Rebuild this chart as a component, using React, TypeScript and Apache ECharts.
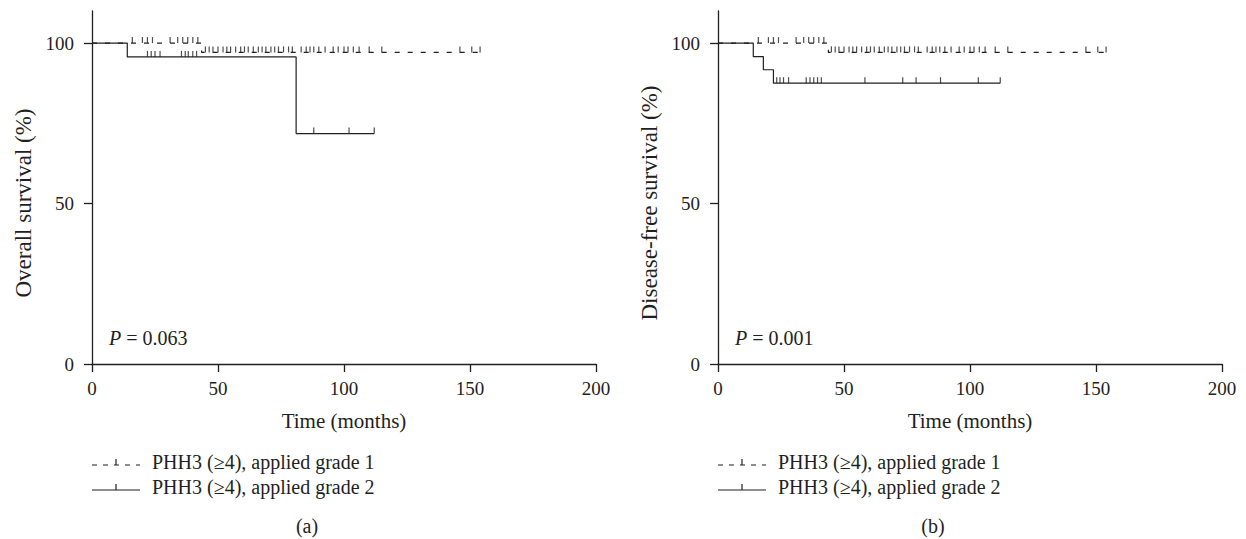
import React, { useEffect, useRef } from 'react';
import * as echarts from 'echarts';

const xTicks = [0, 50, 100, 150, 200];
const yTicks = [0, 50, 100];

// (a) Overall survival
const osG1Times = [0, 43.5, 154];
const osG1Surv = [100, 97.1, 97.1];
const osG1Censor = [16, 20, 22, 24, 31, 34, 36, 38, 40, 42,
  45, 46.5, 48, 50, 52, 53.5, 55, 57, 59, 60.5, 62, 64, 66, 67.5, 69, 71, 72.5, 74, 76, 78, 79.5,
  83, 85, 86.5, 88, 90, 92.5, 95.7, 97.7, 100, 101.6, 103.7, 106, 110, 115, 146, 150.7, 154];
const osG2Times = [0, 14, 81, 112];
const osG2Surv = [100, 95.7, 71.8, 71.8];
const osG2Censor = [22, 23.5, 25, 27, 35.5, 37, 38.2, 40, 41.5, 88, 102, 112];

// (b) Disease-free survival
const dfsG1Times = [0, 43.8, 154];
const dfsG1Surv = [100, 97.1, 97.1];
const dfsG1Censor = [16, 20, 22, 24, 31, 34, 36, 38, 40, 42,
  45, 46.5, 48, 50, 52, 53.5, 55, 57, 59, 60.5, 62, 64, 66, 67.5, 69, 71, 72.5, 74, 76, 78, 79.5,
  83, 85, 86.5, 88, 90, 92.5, 95.7, 97.7, 100, 101.6, 103.7, 106, 110, 115, 146, 150.7, 154];
const dfsG2Times = [0, 14, 18, 22, 112];
const dfsG2Surv = [100, 95.8, 91.7, 87.5, 87.5];
const dfsG2Censor = [23.3, 24.6, 26, 28, 35, 36.5, 38, 39.5, 41, 58.3, 73.3, 78.6, 88.3, 103.3, 112];

const panels = [
  { yName: 'Overall survival (%)', p: '0.063', tag: '(a)', g1: [osG1Times, osG1Surv, osG1Censor], g2: [osG2Times, osG2Surv, osG2Censor] },
  { yName: 'Disease-free survival (%)', p: '0.001', tag: '(b)', g1: [dfsG1Times, dfsG1Surv, dfsG1Censor], g2: [dfsG2Times, dfsG2Surv, dfsG2Censor] },
];
const legendLabels = ['PHH3 (≥4), applied grade 1', 'PHH3 (≥4), applied grade 2'];

const INK = '#231f20';
const FONT = 'Liberation Serif';

function stepAt(times: number[], surv: number[], t: number) {
  let v = surv[0];
  for (let i = 0; i < times.length; i++) if (times[i] <= t) v = surv[i];
  return v;
}

export default function App() {
  const ref = useRef<HTMLDivElement>(null);
  useEffect(() => {
    const chart = echarts.init(ref.current!, null, { renderer: 'svg' });
    const grids: any[] = [];
    const xAxes: any[] = [];
    const yAxes: any[] = [];
    const series: any[] = [];
    const graphics: any[] = [];
    panels.forEach((pn, k) => {
      const ox = k * 626;
      grids.push({ left: 92 + ox, top: 11, width: 504, height: 353 });
      xAxes.push({
        gridIndex: k, type: 'value', min: 0, max: 200, interval: 50,
        name: 'Time (months)', nameLocation: 'middle', nameGap: 46,
        nameTextStyle: { fontFamily: FONT, fontSize: 21, color: INK },
        axisLine: { lineStyle: { color: INK, width: 1.3 } },
        axisTick: { inside: false, length: 8, customValues: xTicks, lineStyle: { color: INK, width: 1.3 } },
        axisLabel: { margin: 15, customValues: xTicks, fontFamily: FONT, fontSize: 19, color: INK },
        splitLine: { show: false },
      });
      yAxes.push({
        gridIndex: k, type: 'value', min: 0, max: 110, interval: 50,
        axisLine: { show: true, lineStyle: { color: INK, width: 1.3 } },
        axisTick: { show: true, inside: false, length: 8, customValues: yTicks, lineStyle: { color: INK, width: 1.3 } },
        axisLabel: { margin: 18, customValues: yTicks, fontFamily: FONT, fontSize: 19, color: INK },
        splitLine: { show: false },
      });
      [pn.g1, pn.g2].forEach((g, gi) => {
        const [times, surv, cens] = g as number[][];
        series.push({
          type: 'line', xAxisIndex: k, yAxisIndex: k, step: 'end', showSymbol: false, silent: true,
          data: times.map((t, i) => [t, surv[i]]),
          lineStyle: { color: INK, width: 1.2, type: gi === 0 ? [5, 8] : 'solid' },
        });
        series.push({
          type: 'scatter', xAxisIndex: k, yAxisIndex: k, silent: true,
          symbol: 'rect', symbolSize: [1.2, 6], symbolOffset: [0, -3],
          itemStyle: { color: INK },
          data: cens.map((t) => [t, stepAt(times, surv, t)]),
        });
      });
      graphics.push({
        type: 'text', x: 23 + ox, y: 203, rotation: Math.PI / 2,
        style: { text: pn.yName, fontFamily: FONT, fontSize: 23, fill: INK, align: 'center', verticalAlign: 'middle' },
      });
      graphics.push({
        type: 'text', x: 109 + ox, y: 338,
        style: { text: '{i|P} = ' + pn.p, fontFamily: FONT, fontSize: 20, fill: INK, verticalAlign: 'middle', rich: { i: { fontStyle: 'italic', fontFamily: FONT, fontSize: 20, fill: INK } } },
      });
      legendLabels.forEach((lab, li) => {
        const y = 465 + li * 25;
        graphics.push({ type: 'line', shape: { x1: 92 + ox, y1: y, x2: 140 + ox, y2: y }, style: { stroke: INK, lineWidth: 1.2, lineDash: li === 0 ? [5, 6] : null } });
        graphics.push({ type: 'line', shape: { x1: 116 + ox, y1: y - 6, x2: 116 + ox, y2: y }, style: { stroke: INK, lineWidth: 1.2 } });
        graphics.push({ type: 'text', x: 152 + ox, y: y - 3, style: { text: lab, fontFamily: FONT, fontSize: 20, fill: INK, verticalAlign: 'middle' } });
      });
      graphics.push({ type: 'text', x: 307 + ox, y: 526, style: { text: pn.tag, fontFamily: FONT, fontSize: 20, fill: INK, align: 'center', verticalAlign: 'middle' } });
    });
    chart.setOption({
      animation: false,
      backgroundColor: '#fff',
      grid: grids, xAxis: xAxes, yAxis: yAxes, series, graphic: graphics,
    });
    return () => chart.dispose();
  }, []);
  return <div ref={ref} style={{ position: 'fixed', left: 0, top: 0, width: 1246, height: 539 }} />;
}
